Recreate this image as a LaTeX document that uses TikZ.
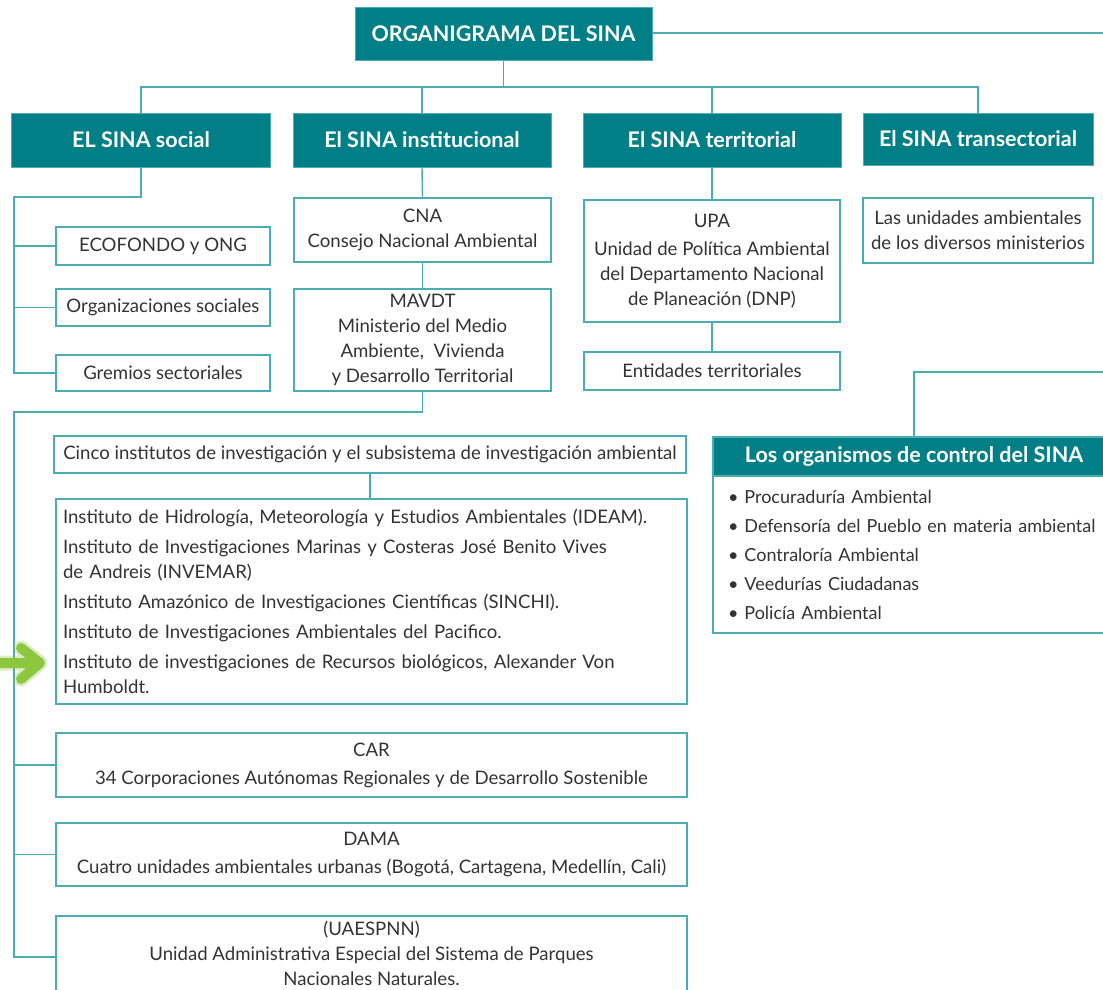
\documentclass[tikz,border=0pt]{standalone}
\usepackage{fontspec}
\setmainfont{Lato}
\usetikzlibrary{calc}
\definecolor{tealfill}{HTML}{007F87}
\definecolor{tealline}{HTML}{4AACB4}
\definecolor{txt}{HTML}{333333}
\definecolor{grn}{HTML}{8DC63F}
\begin{document}
\begin{tikzpicture}[x=1pt,y=-1pt,
  hdr/.style={fill=tealfill, draw=tealline, line width=1pt, text=white,
    font=\bfseries\fontsize{21.5}{24}\selectfont, inner sep=0pt, align=center},
  bx/.style={draw=tealline, line width=1.6pt, fill=white, text=txt,
    font=\fontsize{18.6}{25}\selectfont, align=center, inner sep=0pt},
  conn/.style={draw=tealline, line width=1.4pt}]
\useasboundingbox (0,0) rectangle (1103,989);
\fill[white] (0,0) rectangle (1103,989);

% coordinates for bus lines
\coordinate (bus) at (505,87);
\coordinate (sL) at (14,197);
\coordinate (iL) at (14,412);
\coordinate (rtop) at (1110,33);
\coordinate (rmid) at (1110,372);

% top
\node[hdr, minimum width=297pt, minimum height=53pt] (org) at (503.5,33.5) {ORGANIGRAMA DEL SINA};

\node[hdr, minimum width=259pt, minimum height=54pt] (social) at (141,140) {EL SINA social};
\node[hdr, minimum width=258pt, minimum height=54pt] (inst) at (422,140) {El SINA institucional};
\node[hdr, minimum width=258pt, minimum height=54pt] (terr) at (712,140) {El SINA territorial};
\node[hdr, minimum width=230pt, minimum height=52pt] (trans) at (978,139) {El SINA transectorial};

% social
\node[bx, minimum width=214pt, minimum height=38pt] (eco) at (163,246) {ECOFONDO y ONG};
\node[bx, minimum width=214pt, minimum height=37pt] (orgsoc) at (163,307.5) {Organizaciones sociales};
\node[bx, minimum width=214pt, minimum height=36pt] (grem) at (163,373) {Gremios sectoriales};

% institucional
\node[bx, minimum width=257pt, minimum height=64pt] (cna) at (422.5,230) {CNA\\Consejo Nacional Ambiental};
\node[bx, minimum width=257pt, minimum height=102pt] (mavdt) at (422.5,340) {MAVDT\\Ministerio del Medio\\Ambiente,\ \ Vivienda\\y Desarrollo Territorial};

% territorial
\node[bx, minimum width=256pt, minimum height=122pt] (upa) at (712,261) {UPA\\[3pt]Unidad de Política Ambiental\\del Departamento Nacional\\de Planeación (DNP)};
\node[bx, minimum width=256pt, minimum height=38pt] (ent) at (712,371) {Entidades territoriales};

% transectorial
\node[bx, minimum width=230pt, minimum height=65pt] (unid) at (978,230.5) {Las unidades ambientales\\de los diversos ministerios};

% institutos
\node[bx, minimum width=632pt, minimum height=37pt] (cinco) at (370,454.5) {Cinco institutos de investigación y el subsistema de investigación ambiental};
\node[bx, minimum width=631pt, minimum height=205pt, align=left, text width=617pt] (ist) at (371.5,601.5)
 {Instituto de Hidrología, Meteorología y Estudios Ambientales (IDEAM).\\[5pt]
  Instituto de Investigaciones Marinas y Costeras José Benito Vives\\
  de Andreis (INVEMAR)\\[5pt]
  Instituto Amazónico de Investigaciones Científicas (SINCHI).\\[5pt]
  Instituto de Investigaciones Ambientales del Pacifico.\\[5pt]
  Instituto de investigaciones de Recursos biológicos, Alexander Von\\
  Humboldt.};

\node[bx, minimum width=631pt, minimum height=64pt] (car) at (371.5,765) {CAR\\[3pt]34 Corporaciones Autónomas Regionales y de Desarrollo Sostenible};
\node[bx, minimum width=631pt, minimum height=63pt] (dama) at (371.5,854.5) {DAMA\\[3pt]Cuatro unidades ambientales urbanas (Bogotá, Cartagena, Medellín, Cali)};
\node[bx, minimum width=631pt, minimum height=82pt, text depth=7pt] (uae) at (371.5,957) {(UAESPNN)\\Unidad Administrativa Especial del Sistema de Parques\\Nacionales Naturales.};

% organismos de control
\node[hdr, minimum width=402pt, minimum height=39pt, line width=1.6pt] (ctrlh) at (914,456.5) {Los organismos de control del SINA};
\node[bx, minimum width=402pt, minimum height=157pt, align=left, text width=372pt,
      font=\fontsize{18}{25}\selectfont] (ctrlb) at (914,554.5)
 {\mbox{• Procuraduría Ambiental}\\[4pt]
  \mbox{• Defensoría del Pueblo en materia ambiental}\\[4pt]
  \mbox{• Contraloría Ambiental}\\[4pt]
  \mbox{• Veedurías Ciudadanas}\\[4pt]
  \mbox{• Policía Ambiental}};

% connectors
\draw[conn] (org.east |- rtop) -- (rtop);
\draw[conn] (org.south) -- (org.south |- bus);
\draw[conn] (social.north) |- (bus) -| (trans.north);
\draw[conn] (inst.north) -- (inst.north |- bus);
\draw[conn] (terr.north) -- (terr.north |- bus);

\draw[conn] (social.south) |- (sL) -- (sL |- grem.west) -- (grem.west);
\draw[conn] (sL |- eco.west) -- (eco.west);
\draw[conn] (sL |- orgsoc.west) -- (orgsoc.west);

\draw[conn] (inst.south) -- (cna.north);
\draw[conn] (cna.south) -- (mavdt.north);
\draw[conn] (mavdt.south) |- (iL) -- (iL |- uae.west) -- (uae.west);
\draw[conn] (iL |- car.west) -- (car.west);
\draw[conn] (iL |- dama.west) -- (dama.west);

\draw[conn] (cinco.south) -- (cinco.south |- ist.north);

\draw[conn] (terr.south) -- (upa.north);
\draw[conn] (upa.south) -- (ent.north);

\draw[conn] (rmid) -| (ctrlh.north);

% green arrow
\draw[grn, opacity=0.3, line width=15pt, line cap=round, line join=round] (-10,663) -- (37,663) (21,648) -- (40,663) -- (21,679);
\draw[grn, line width=10pt, line cap=round, line join=round] (-10,663) -- (37,663) (21,648) -- (40,663) -- (21,679);
\end{tikzpicture}
\end{document}
